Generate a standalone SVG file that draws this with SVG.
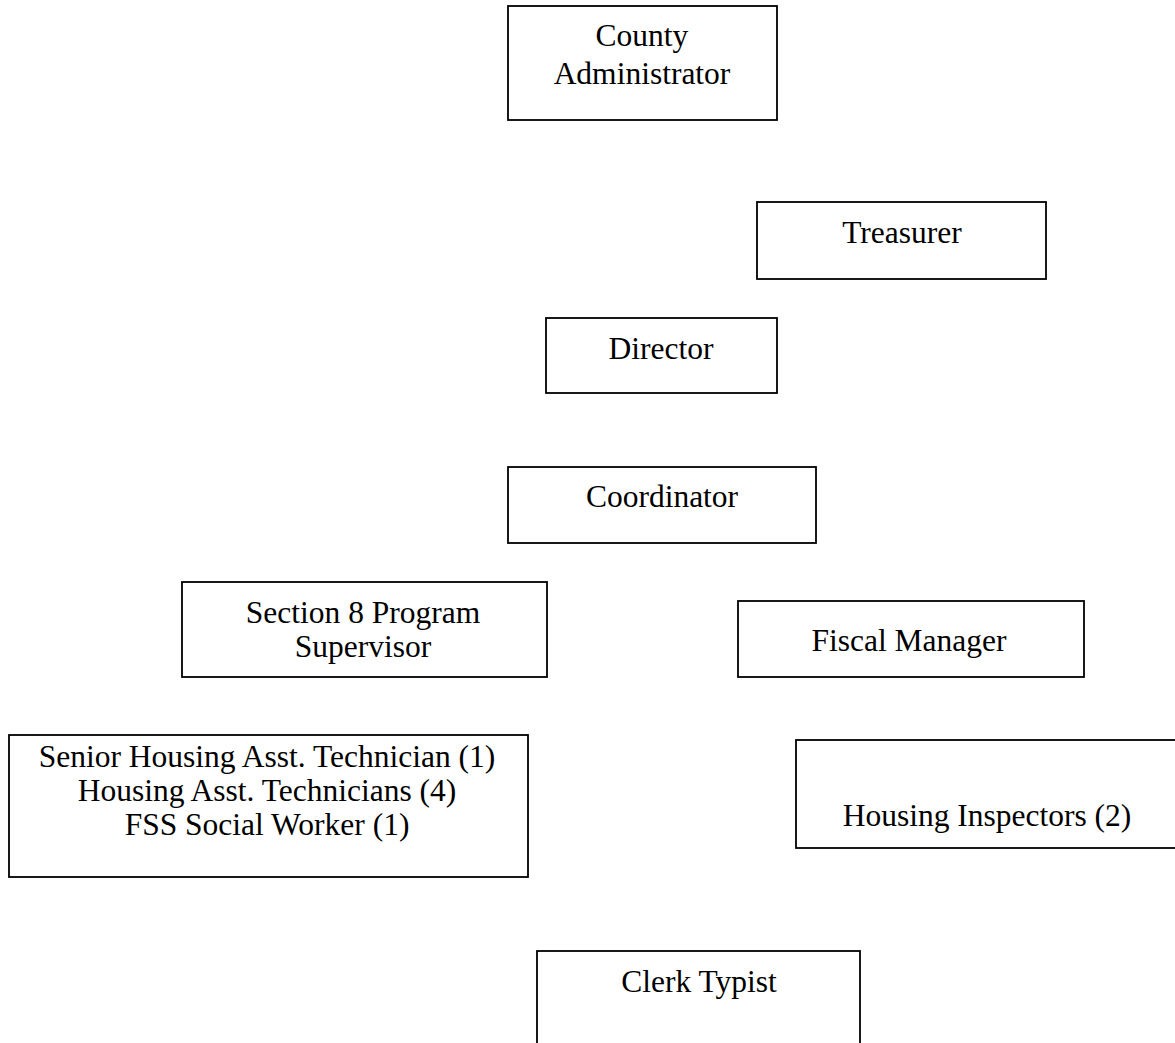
<svg xmlns="http://www.w3.org/2000/svg" width="1175" height="1043" viewBox="0 0 1175 1043">
<style>
.box{fill:#fff;stroke:#000;stroke-width:1.8}
.t{font-family:"Liberation Serif","Times New Roman",serif;font-size:31.5px;fill:#000;text-anchor:middle}
</style>
<rect width="1175" height="1043" fill="#fff"/>
<g id="connectors"></g>
<g id="county-administrator">
<rect class="box" x="508" y="6" width="269" height="114"/>
<text class="t" x="642" y="46">County</text>
<text class="t" x="642" y="84">Administrator</text>
</g>
<g id="treasurer">
<rect class="box" x="757" y="202" width="289" height="77"/>
<text class="t" x="902" y="243">Treasurer</text>
</g>
<g id="director">
<rect class="box" x="546" y="318" width="231" height="75"/>
<text class="t" x="661" y="359">Director</text>
</g>
<g id="coordinator">
<rect class="box" x="508" y="467" width="308" height="76"/>
<text class="t" x="662" y="507">Coordinator</text>
</g>
<g id="section8-supervisor">
<rect class="box" x="182" y="582" width="365" height="95"/>
<text class="t" x="363" y="623">Section 8 Program</text>
<text class="t" x="363" y="657">Supervisor</text>
</g>
<g id="fiscal-manager">
<rect class="box" x="738" y="601" width="346" height="76"/>
<text class="t" x="909" y="651">Fiscal Manager</text>
</g>
<g id="housing-technicians">
<rect class="box" x="9" y="735" width="519" height="142"/>
<text class="t" x="267" y="767">Senior Housing Asst. Technician (1)</text>
<text class="t" x="267" y="801">Housing Asst. Technicians (4)</text>
<text class="t" x="267" y="835">FSS Social Worker (1)</text>
</g>
<g id="housing-inspectors">
<rect class="box" x="796" y="740" width="384" height="108"/>
<text class="t" x="987" y="826">Housing Inspectors (2)</text>
</g>
<g id="clerk-typist">
<rect class="box" x="537" y="951" width="323" height="100"/>
<text class="t" x="699" y="992">Clerk Typist</text>
</g>
</svg>
